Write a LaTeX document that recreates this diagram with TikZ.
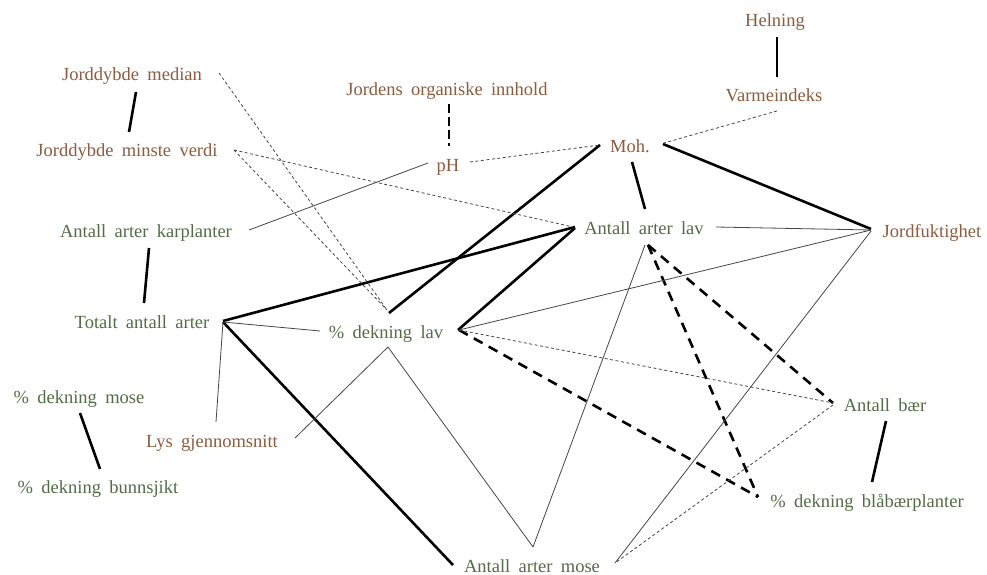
\documentclass[tikz,border=0pt]{standalone}
\usepackage{fontspec}
\setmainfont{Liberation Serif}
\definecolor{brn}{RGB}{140,92,62}
\definecolor{grn}{RGB}{84,108,70}
\definecolor{thinc}{RGB}{70,70,70}
\begin{document}
\begin{tikzpicture}[x=1pt,y=-1pt,
  lbl/.style={anchor=base,inner sep=0pt,font={\fontsize{18.5}{20}\selectfont\spaceskip=0.45em plus 0.1em}},
  env/.style={lbl,text=brn},
  bio/.style={lbl,text=grn},
  strong/.style={line width=2.6pt,black},
  weak/.style={line width=0.8pt,thinc},
  weakdash/.style={line width=0.8pt,thinc,dash pattern=on 3pt off 2.5pt},
  strongdash/.style={line width=2.6pt,black,dash pattern=on 10pt off 7pt},
  phdash/.style={line width=2.6pt,black,dash pattern=on 9pt off 4pt}]
\fill[white] (0,0) rectangle (987,575);
\useasboundingbox (0,0) rectangle (987,575);

\node[env] (helning) at (775,27) {Helning};
\node[env] (varme) at (774,102) {Varmeindeks};
\node[env] (jordens) at (447,96) {Jordens organiske innhold};
\node[env] (jmed) at (132,81) {Jorddybde median};
\node[env] (jmin) at (127,157) {Jorddybde minste verdi};
\node[env] (ph) at (448,171) {pH};
\node[env] (moh) at (630,152) {Moh.};
\node[bio] (karpl) at (146,237) {Antall arter karplanter};
\node[bio] (alav) at (644,234) {Antall arter lav};
\node[env] (jfukt) at (932,237) {Jordfuktighet};
\node[bio] (total) at (142,328) {Totalt antall arter};
\node[bio] (dlav) at (386,338) {\% dekning lav};
\node[bio] (dmose) at (79,403) {\% dekning mose};
\node[env] (lys) at (212,447) {Lys gjennomsnitt};
\node[bio] (baer) at (885,411) {Antall bær};
\node[bio] (bunn) at (98,493) {\% dekning bunnsjikt};
\node[bio] (blaa) at (867,507) {\% dekning blåbærplanter};
\node[bio] (amose) at (532,572) {Antall arter mose};

% strong solid
\draw[strong] ([shift={(2,10)}]helning.base) -- ([shift={(3,-25)}]varme.base);
\draw[strong] ([shift={(4,11)}]jmed.base) -- ([shift={(2,-25)}]jmin.base);
\draw[strong] ([shift={(3,11)}]karpl.base) -- ([shift={(2,-25)}]total.base);
\draw[strong] ([shift={(1,10)}]dmose.base) -- ([shift={(2,-24)}]bunn.base);
\draw[strong] ([shift={(1,10)}]baer.base) -- ([shift={(5,-25)}]blaa.base);
\draw[strong] ([shift={(2,10)}]moh.base) -- ([shift={(1,-25)}]alav.base);
\draw[strong] ([shift={(33,-8)}]moh.base) -- ([shift={(-61,-8)}]jfukt.base);
\draw[strong] ([shift={(-30,-7)}]moh.base) -- ([shift={(3,-25)}]dlav.base);
\draw[strong] ([shift={(-69,-7)}]alav.base) -- ([shift={(81,-7)}]total.base);
\draw[strong] ([shift={(-69,-6)}]alav.base) -- ([shift={(72,-8)}]dlav.base);
\draw[strong] ([shift={(81,-6)}]total.base) -- ([shift={(-79,-7)}]amose.base);

% strong dashed
\draw[phdash] ([shift={(2,8)}]jordens.base) -- ([shift={(1,-25)}]ph.base);
\draw[strongdash] ([shift={(4,11)}]alav.base) -- ([shift={(-109,-10)}]blaa.base);
\draw[strongdash] ([shift={(4,11)}]alav.base) -- ([shift={(-52,-8)}]baer.base);
\draw[strongdash] ([shift={(73,-8)}]dlav.base) -- ([shift={(-109,-10)}]blaa.base);

% weak solid
\draw[weak] ([shift={(-20,-8)}]ph.base) -- ([shift={(103,-7)}]karpl.base);
\draw[weak] ([shift={(81,-6)}]total.base) -- ([shift={(-66,-7)}]dlav.base);
\draw[weak] ([shift={(81,-6)}]total.base) -- ([shift={(4,-25)}]lys.base);
\draw[weak] ([shift={(83,-9)}]lys.base) -- ([shift={(2,9)}]dlav.base);
\draw[weak] ([shift={(2,9)}]dlav.base) -- ([shift={(1,-25)}]amose.base);
\draw[weak] ([shift={(1,-25)}]amose.base) -- ([shift={(1,11)}]alav.base);
\draw[weak] ([shift={(73,-8)}]dlav.base) -- ([shift={(-61,-7)}]jfukt.base);
\draw[weak] ([shift={(72,-7)}]alav.base) -- ([shift={(-61,-7)}]jfukt.base);
\draw[weak] ([shift={(-61,-6)}]jfukt.base) -- ([shift={(83,-9)}]amose.base);

% weak dashed
\draw[weakdash] ([shift={(3,9)}]varme.base) -- ([shift={(34,-9)}]moh.base);
\draw[weakdash] ([shift={(22,-9)}]ph.base) -- ([shift={(-30,-7)}]moh.base);
\draw[weakdash] ([shift={(107,-7)}]jmin.base) -- ([shift={(-71,-7)}]alav.base);
\draw[weakdash] ([shift={(107,-7)}]jmin.base) -- ([shift={(1,-28)}]dlav.base);
\draw[weakdash] ([shift={(87,-8)}]jmed.base) -- ([shift={(1,-28)}]dlav.base);
\draw[weakdash] ([shift={(73,-8)}]dlav.base) -- ([shift={(-52,-8)}]baer.base);
\draw[weakdash] ([shift={(-52,-6)}]baer.base) -- ([shift={(83,-9)}]amose.base);
\end{tikzpicture}
\end{document}
